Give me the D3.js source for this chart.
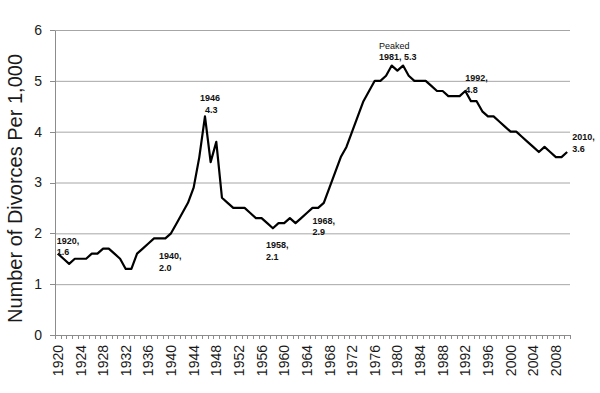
<!DOCTYPE html>
<html lang="en">
<head>
    <meta charset="UTF-8">
    <title>Divorce rate 1920-2010</title>
    <style>
        body{ margin:0; background:#fff;}
        svg{ display:block; font-family:"Liberation Sans", Arial, sans-serif;}
        .grid line{ stroke:#a6a6a6; stroke-width:1;}
        .grid path{ display:none;}
        .axis path, .axis line{ stroke:#8c8c8c; stroke-width:1; shape-rendering:crispEdges;}
        .axis text{ fill:#1a1a1a;}
        .note{ font-size:9px; font-weight:bold; fill:#111;}
    </style>
</head>
<body>

<script src="https://cdn.jsdelivr.net/npm/d3@7"></script>
<script>

// years on the category axis
var years = d3.range(1920, 2011);

// divorces per 1,000 population, one value per year
var rates = [
    1.6, 1.5, 1.4, 1.5, 1.5, 1.5, 1.6, 1.6, 1.7, 1.7,   // 1920-1929
    1.6, 1.5, 1.3, 1.3, 1.6, 1.7, 1.8, 1.9, 1.9, 1.9,   // 1930-1939
    2.0, 2.2, 2.4, 2.6, 2.9, 3.5, 4.3, 3.4, 3.8, 2.7,   // 1940-1949
    2.6, 2.5, 2.5, 2.5, 2.4, 2.3, 2.3, 2.2, 2.1, 2.2,   // 1950-1959
    2.2, 2.3, 2.2, 2.3, 2.4, 2.5, 2.5, 2.6, 2.9, 3.2,   // 1960-1969
    3.5, 3.7, 4.0, 4.3, 4.6, 4.8, 5.0, 5.0, 5.1, 5.3,   // 1970-1979
    5.2, 5.3, 5.1, 5.0, 5.0, 5.0, 4.9, 4.8, 4.8, 4.7,   // 1980-1989
    4.7, 4.7, 4.8, 4.6, 4.6, 4.4, 4.3, 4.3, 4.2, 4.1,   // 1990-1999
    4.0, 4.0, 3.9, 3.8, 3.7, 3.6, 3.7, 3.6, 3.5, 3.5,   // 2000-2009
    3.6                                                 // 2010
];

var yTicks = [0, 1, 2, 3, 4, 5, 6];
var xLabelYears = d3.range(1920, 2011, 4);

// data labels on the line
var noteYears = [1920, 1940, 1946, 1958, 1968, 1981, 1992, 2010];
var noteLines = [
    ["1920,", "1.6"],
    ["1940,", "2.0"],
    ["1946", "4.3"],
    ["1958,", "2.1"],
    ["1968,", "2.9"],
    ["Peaked", "1981, 5.3"],
    ["1992,", "4.8"],
    ["2010,", "3.6"]
];

var data = years.map(function(d, i){ return { year: d, rate: rates[i] }; });

var width = 600, height = 393;
var plotL = 55, plotR = 570, plotT = 30, plotB = 335;

var svg = d3.select("body").append("svg")
        .attr("width", width)
        .attr("height", height);

var x = d3.scaleBand().domain(years).range([plotL, plotR]);
var xEdge = d3.scaleLinear().domain([0, years.length]).range([plotL, plotR]);
var y = d3.scaleLinear().domain([0, 6]).range([plotB, plotT]);

function cx(yr){ return x(yr) + x.bandwidth() / 2; }

// horizontal gridlines
svg.append("g")
    .attr("class", "grid")
    .attr("transform", "translate(" + plotL + ",0)")
    .call(d3.axisLeft(y).tickValues(yTicks).tickSize(-(plotR - plotL)).tickFormat(""))
    .selectAll(".tick").filter(function(d){ return d === 0; }).remove();

// y axis
svg.append("g")
    .attr("class", "axis")
    .attr("transform", "translate(" + plotL + ",0)")
    .call(d3.axisLeft(y).tickValues(yTicks).tickFormat(d3.format("d")).tickSize(5).tickSizeOuter(0).tickPadding(8))
    .selectAll("text")
    .style("font-size", "14px");

// x axis: tick marks between categories
svg.append("g")
    .attr("class", "axis")
    .attr("transform", "translate(0," + plotB + ")")
    .call(d3.axisBottom(xEdge).tickValues(d3.range(years.length + 1)).tickSize(4).tickSizeOuter(0).tickFormat(""));

// x axis labels, every 4th year, rotated
svg.append("g")
    .attr("class", "axis")
    .attr("transform", "translate(0," + plotB + ")")
    .call(d3.axisBottom(x).tickValues(xLabelYears).tickSize(0))
    .call(function(g){ g.select(".domain").remove(); })
    .selectAll("text")
    .style("font-size", "14px")
    .attr("transform", "rotate(-90)")
    .attr("text-anchor", "end")
    .attr("x", -10)
    .attr("y", 0)
    .attr("dy", "0.36em");

// y axis title
svg.append("text")
    .attr("transform", "translate(21.5," + ((plotT + plotB) / 2 + 6) + ") rotate(-90)")
    .attr("text-anchor", "middle")
    .style("font-size", "20px")
    .style("fill", "#1a1a1a")
    .text("Number of Divorces Per 1,000");

// the rate line
var line = d3.line()
        .x(function(d){ return cx(d.year); })
        .y(function(d){ return y(d.rate); });

svg.append("path")
    .datum(data)
    .attr("d", line)
    .attr("fill", "none")
    .attr("stroke", "#000")
    .attr("stroke-width", 2.2)
    .attr("stroke-linejoin", "round");

// label placement relative to the point: [dx, dy of first baseline]
var noteOffset = {
    1920: [-1, -10],
    1940: [-12, 26],
    1946: [-5, -15],
    1958: [-7, 20],
    1968: [-17, 36],
    1981: [-24, -17],
    1992: [0, -10],
    2010: [5, -12]
};

noteYears.forEach(function(yr, i){
    var d = data[yr - 1920];
    var off = noteOffset[yr];
    var t = svg.append("text")
            .attr("class", "note")
            .attr("x", cx(yr) + off[0])
            .attr("y", y(d.rate) + off[1]);
    noteLines[i].forEach(function(s, j){
        t.append("tspan")
            .attr("x", cx(yr) + off[0] + (yr === 1946 && j === 1 ? 5 : 0))
            .attr("dy", j === 0 ? 0 : 11.5)
            .style("font-weight", s === "Peaked" ? "normal" : "bold")
            .text(s);
    });
});

</script>

</body>
</html>
